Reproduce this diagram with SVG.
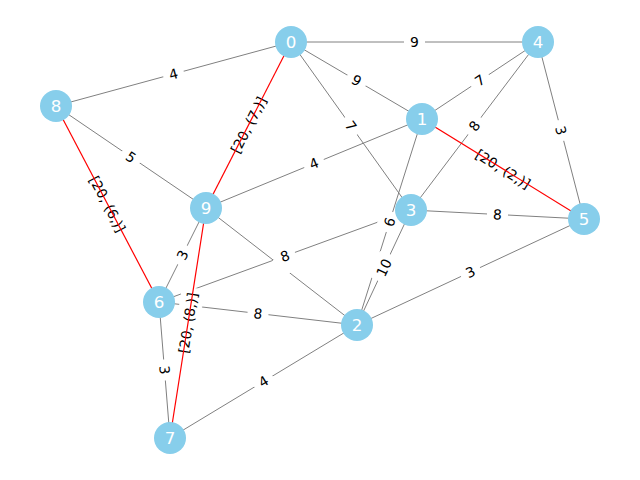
<svg xmlns="http://www.w3.org/2000/svg" width="640" height="480" viewBox="0 0 640 480">
<style>
.e{stroke:#808080;stroke-width:1;fill:none}
.r{stroke:#ff0000;stroke-width:1.2;fill:none}
.lb rect{fill:#fff;stroke:#fff}
.lb text{font-family:"DejaVu Sans",sans-serif;font-size:13.9px;fill:#000;text-anchor:middle}
.n circle{fill:#87ceeb}
.n text{font-family:"DejaVu Sans",sans-serif;font-size:16.7px;fill:#fff;text-anchor:middle}
</style>
<rect width="640" height="480" fill="#fff"/>
<g id="connectors">
<g id="edges-gray">
<line class="e" x1="291" y1="42" x2="538" y2="42"/>
<line class="e" x1="291" y1="42" x2="56" y2="106"/>
<line class="e" x1="291" y1="42" x2="422" y2="119"/>
<line class="e" x1="291" y1="42" x2="411" y2="210"/>
<line class="e" x1="538" y1="42" x2="422" y2="119"/>
<line class="e" x1="538" y1="42" x2="411" y2="210"/>
<line class="e" x1="538" y1="42" x2="584" y2="219"/>
<line class="e" x1="422" y1="119" x2="206" y2="208"/>
<line class="e" x1="422" y1="119" x2="357" y2="325"/>
<line class="e" x1="411" y1="210" x2="357" y2="325"/>
<line class="e" x1="411" y1="210" x2="584" y2="219"/>
<line class="e" x1="411" y1="210" x2="159" y2="302"/>
<line class="e" x1="357" y1="325" x2="584" y2="219"/>
<line class="e" x1="357" y1="325" x2="206" y2="208"/>
<line class="e" x1="357" y1="325" x2="159" y2="302"/>
<line class="e" x1="357" y1="325" x2="170" y2="438"/>
<line class="e" x1="159" y1="302" x2="170" y2="438"/>
<line class="e" x1="159" y1="302" x2="206" y2="208"/>
<line class="e" x1="56" y1="106" x2="206" y2="208"/>
</g>
<g id="edge-labels">
<g class="lb" transform="translate(414.5,42)"><rect x="-10" y="-11" width="20" height="22" rx="4"/><text y="5">9</text></g>
<g class="lb" transform="translate(173.5,74) rotate(-15.2)"><rect x="-10" y="-11" width="20" height="22" rx="4"/><text y="5">4</text></g>
<g class="lb" transform="translate(356.5,80.5) rotate(30.4)"><rect x="-10" y="-11" width="20" height="22" rx="4"/><text y="5">9</text></g>
<g class="lb" transform="translate(351,126) rotate(54.5)"><rect x="-10" y="-11" width="20" height="22" rx="4"/><text y="5">7</text></g>
<g class="lb" transform="translate(480,80.5) rotate(-33.6)"><rect x="-10" y="-11" width="20" height="22" rx="4"/><text y="5">7</text></g>
<g class="lb" transform="translate(474.5,126) rotate(-52.9)"><rect x="-10" y="-11" width="20" height="22" rx="4"/><text y="5">8</text></g>
<g class="lb" transform="translate(561,130.5) rotate(75.4)"><rect x="-10" y="-11" width="20" height="22" rx="4"/><text y="5">3</text></g>
<g class="lb" transform="translate(314,163.5) rotate(-22.4)"><rect x="-10" y="-11" width="20" height="22" rx="4"/><text y="5">4</text></g>
<g class="lb" transform="translate(389.5,222) rotate(-72.5)"><rect x="-10" y="-11" width="20" height="22" rx="4"/><text y="5">6</text></g>
<g class="lb" transform="translate(384,267.5) rotate(-64.8)"><rect x="-14" y="-11" width="28" height="22" rx="4"/><text y="5">10</text></g>
<g class="lb" transform="translate(497.5,214.5) rotate(3)"><rect x="-10" y="-11" width="20" height="22" rx="4"/><text y="5">8</text></g>
<g class="lb" transform="translate(281.5,266.5) rotate(37.8)"><rect x="-10" y="-11" width="20" height="22" rx="4"/></g>
<g class="lb" transform="translate(285,256) rotate(-20)"><rect x="-10" y="-11" width="20" height="22" rx="4"/><text y="5">8</text></g>
<g class="lb" transform="translate(470.5,272) rotate(-25)"><rect x="-10" y="-11" width="20" height="22" rx="4"/><text y="5">3</text></g>
<g class="lb" transform="translate(258,313.5) rotate(6.6)"><rect x="-10" y="-11" width="20" height="22" rx="4"/><text y="5">8</text></g>
<g class="lb" transform="translate(263.5,381.5) rotate(-31.1)"><rect x="-10" y="-11" width="20" height="22" rx="4"/><text y="5">4</text></g>
<g class="lb" transform="translate(164.5,370) rotate(85.4)"><rect x="-10" y="-11" width="20" height="22" rx="4"/><text y="5">3</text></g>
<g class="lb" transform="translate(182.5,255) rotate(-63.4)"><rect x="-10" y="-11" width="20" height="22" rx="4"/><text y="5">3</text></g>
<g class="lb" transform="translate(131,157) rotate(34.2)"><rect x="-10" y="-11" width="20" height="22" rx="4"/><text y="5">5</text></g>
<g class="lb" transform="translate(248.5,125) rotate(-62.9)"><rect x="-35" y="-11" width="70" height="22" rx="4"/><text y="5">[20, (7,)]</text></g>
<g class="lb" transform="translate(503,169) rotate(31.7)"><rect x="-35" y="-11" width="70" height="22" rx="4"/><text y="5">[20, (2,)]</text></g>
<g class="lb" transform="translate(107.5,204) rotate(62.3)"><rect x="-35" y="-11" width="70" height="22" rx="4"/><text y="5">[20, (6,)]</text></g>
<g class="lb" transform="translate(188,323) rotate(-81.1)"><rect x="-35" y="-11" width="70" height="22" rx="4"/><text y="5">[20, (8,)]</text></g>
</g>
<g id="edges-red">
<line class="r" x1="291" y1="42" x2="206" y2="208"/>
<line class="r" x1="422" y1="119" x2="584" y2="219"/>
<line class="r" x1="56" y1="106" x2="159" y2="302"/>
<line class="r" x1="206" y1="208" x2="170" y2="438"/>
</g>
</g>
<g id="node-0" class="n"><circle cx="291" cy="42" r="16"/><text x="291" y="48">0</text></g>
<g id="node-1" class="n"><circle cx="422" cy="119" r="16"/><text x="422" y="125">1</text></g>
<g id="node-2" class="n"><circle cx="357" cy="325" r="16"/><text x="357" y="331">2</text></g>
<g id="node-3" class="n"><circle cx="411" cy="210" r="16"/><text x="411" y="216">3</text></g>
<g id="node-4" class="n"><circle cx="538" cy="42" r="16"/><text x="538" y="48">4</text></g>
<g id="node-5" class="n"><circle cx="584" cy="219" r="16"/><text x="584" y="225">5</text></g>
<g id="node-6" class="n"><circle cx="159" cy="302" r="16"/><text x="159" y="308">6</text></g>
<g id="node-7" class="n"><circle cx="170" cy="438" r="16"/><text x="170" y="444">7</text></g>
<g id="node-8" class="n"><circle cx="56" cy="106" r="16"/><text x="56" y="112">8</text></g>
<g id="node-9" class="n"><circle cx="206" cy="208" r="16"/><text x="206" y="214">9</text></g>
</svg>
